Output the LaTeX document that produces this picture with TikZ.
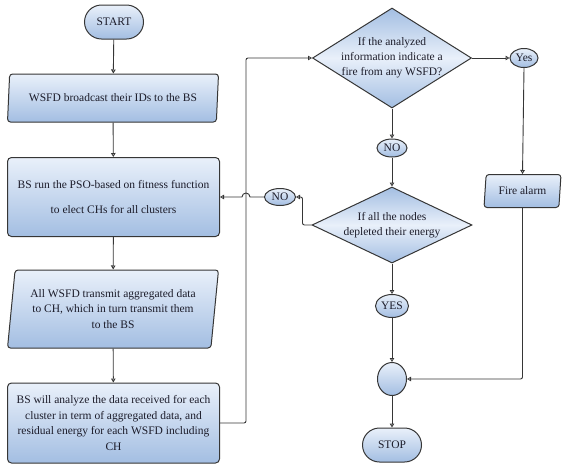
\documentclass[tikz,border=0pt]{standalone}
\usepackage{fontspec}
\setmainfont{Liberation Serif}
\usetikzlibrary{arrows.meta,shapes.geometric,shapes.misc}
\definecolor{edgegray}{HTML}{363636}
\definecolor{lightfill}{HTML}{E9F0FA}
\definecolor{darkfill}{HTML}{A3BEE2}
\definecolor{inktext}{HTML}{1C1C2A}
\tikzstyle{block}=[draw=edgegray,line width=1pt,top color=lightfill,bottom color=darkfill,text=inktext,align=center,inner sep=2pt,font=\fontsize{11.5}{15.5}\selectfont]
\tikzstyle{terminal}=[block,rounded rectangle,minimum width=63pt,minimum height=34pt]
\tikzstyle{process}=[block,rectangle,rounded corners=4pt,minimum width=212pt]
\tikzstyle{io}=[block,trapezium,trapezium left angle=80,trapezium right angle=100,trapezium stretches body,rounded corners=3pt]
\tikzstyle{decision}=[block,diamond,top color=darkfill,bottom color=darkfill,middle color=lightfill,inner sep=0pt]
\tikzstyle{question}=[align=center,inner sep=0pt,text=inktext,font=\fontsize{11.5}{15}\selectfont]
\tikzstyle{answer}=[block,ellipse,inner sep=0pt]
\tikzstyle{flow}=[draw=edgegray,line width=0.9pt,-{Triangle[open,length=4pt,width=4.5pt]}]

\begin{document}
\begin{tikzpicture}[x=1pt,y=-1pt]
        \useasboundingbox (0,0) rectangle (562,475);
        % left column
        \node[terminal] (start) at (114,22) {START};
        \node[io,minimum width=211pt,minimum height=48pt] (bcast) at (113,98) {WSFD broadcast their IDs to the BS};
        \node[process,minimum height=79pt] (elect) at (113.5,197) {BS run the PSO-based on fitness function\\[10pt]to elect CHs for all clusters};
        \node[io,minimum width=211pt,minimum height=78pt] (transmit) at (113,309) {All WSFD transmit aggregated data\\to CH, which in turn transmit them\\to the BS};
        \node[process,minimum height=80pt] (analyze) at (113.5,423) {BS will analyze the data received for each\\cluster in term of aggregated data, and\\residual energy for each WSFD including\\CH};
        % right column
        \node[decision,minimum width=159pt,minimum height=100pt,label={[question]center:{If the analyzed\\information indicate a\\fire from any WSFD?}}] (d1) at (392,58) {};
        \node[answer,minimum width=28pt,minimum height=19pt] (yes1) at (524,58) {Yes};
        \node[io,minimum width=77pt,minimum height=33pt] (alarm) at (522.5,191) {Fire alarm};
        \node[answer,minimum width=30pt,minimum height=18pt] (no1) at (392,148) {NO};
        \node[decision,minimum width=160pt,minimum height=76pt,label={[question]center:{If all the nodes\\depleted their energy}}] (d2) at (392,225) {};
        \node[answer,minimum width=31pt,minimum height=17pt] (no2) at (280,197) {NO};
        \node[answer,minimum width=33pt,minimum height=23pt] (yes2) at (392,306) {YES};
        \node[answer,minimum width=29pt,minimum height=33pt] (join) at (392,379) {};
        \node[terminal] (stop) at (392,445) {STOP};
        \coordinate (loop) at (246,58);
        % connectors
        \draw[flow] (start) -- (bcast);
        \draw[flow] (bcast) -- (elect);
        \draw[flow] (elect) -- (transmit);
        \draw[flow] (transmit) -- (analyze);
        \draw[flow,rounded corners=2pt] (analyze.east) -| (loop) -- (d1.west);
        \draw[flow] (d1.east) -- (yes1.west);
        \draw[flow] (yes1.south) -- (alarm.north);
        \draw[flow,rounded corners=2pt] (alarm.south) |- (join.east);
        \draw[flow] (d1.south) -- (no1.north);
        \draw[flow] (no1.south) -- (d2.north);
        \draw[flow,rounded corners=2pt] (d2.west) -- ++(-9,0) |- (no2.east);
        \draw[flow] (no2.west) -- (250,197) arc[start angle=0,end angle=-180,radius=4] -- (elect.east);
        \draw[flow] (d2.south) -- (yes2.north);
        \draw[flow] (yes2.south) -- (join.north);
        \draw[flow] (join.south) -- (stop.north);
      \end{tikzpicture}
\end{document}
